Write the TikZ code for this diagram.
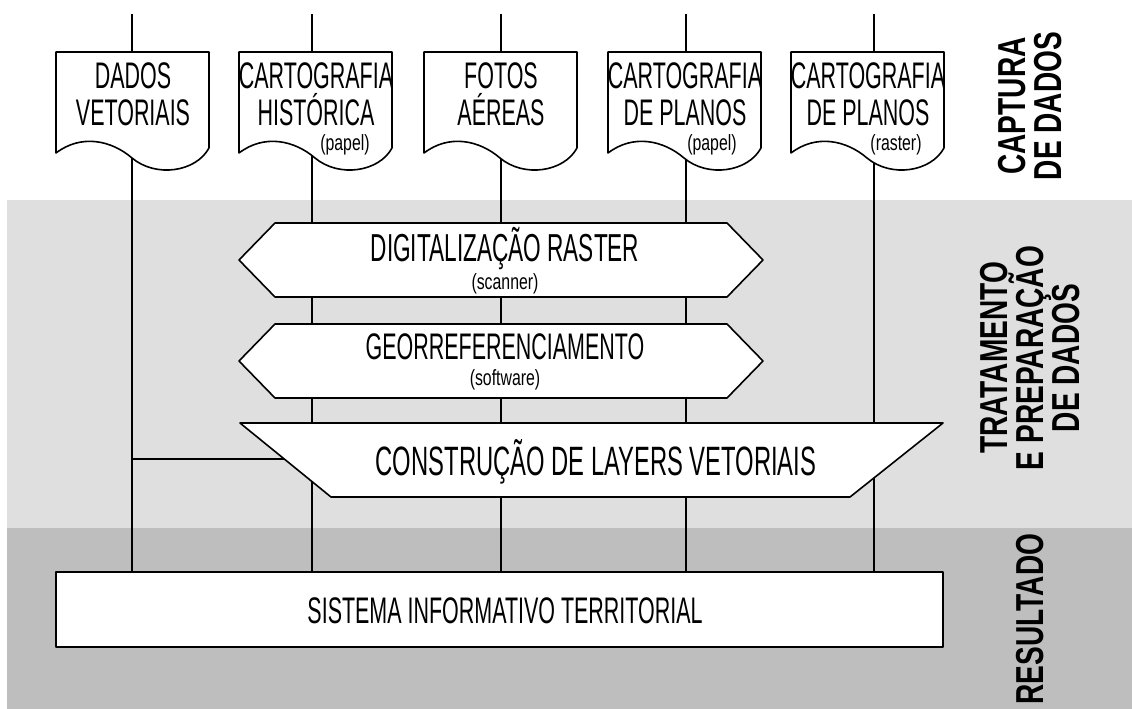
\documentclass[tikz,border=0pt]{standalone}
\usepackage{fontspec}
\setmainfont{Liberation Sans}
\newfontfamily\mainf[FakeStretch=0.58]{Liberation Sans}
\newfontfamily\subf[FakeStretch=0.72]{Liberation Sans}
\newfontfamily\boldf[FakeStretch=0.72]{Liberation Sans}
\definecolor{bandA}{HTML}{DFDFDF}
\definecolor{bandB}{HTML}{BEBEBE}
\begin{document}
\begin{tikzpicture}[x=1pt,y=-1pt,line width=1.6pt,
  shapebox/.style={draw=black,fill=white,line join=round},
  maintext/.style={font=\mainf\fontsize{37}{37}\selectfont,inner sep=0pt,align=center,anchor=base},
  subtext/.style={font=\subf\fontsize{22}{22}\selectfont,inner sep=0pt,anchor=base},
  sidetext/.style={font=\boldf\bfseries\fontsize{39}{36}\selectfont,inner sep=0pt,align=center,rotate=90},
  flow/.style={draw=black,line width=1.6pt},
  docshape/.pic={
    \draw[shapebox] (0,0) -- (153,0) -- (153,96)
      .. controls (140,120) and (100,126) .. (76,106)
      .. controls (55,88) and (25,82) .. (0,101) -- cycle;
  }]
\useasboundingbox (0,0) rectangle (1132,709);
% bands
\fill[bandA] (7,200) rectangle (1132,528);
\fill[bandB] (7,528) rectangle (1132,709);

% result box
\node[shapebox,minimum width=887pt,minimum height=75pt,inner sep=0pt] (sit) at (499.5,609.5) {};
\node[maintext] (sitt) at (505,623) {SISTEMA INFORMATIVO TERRITORIAL};

% vertical connectors
\coordinate (t1) at (132,14);
\coordinate (t2) at (312,14);
\coordinate (t3) at (501,14);
\coordinate (t4) at (686,14);
\coordinate (t5) at (874,14);
\foreach \t in {t1,t2,t3,t4,t5}{
  \draw[flow] (\t) -- (\t |- sit.north);
}

% documents
\pic at (56,52) {docshape};
\pic at (239,52) {docshape};
\pic at (424,52) {docshape};
\pic at (608,52) {docshape};
\pic at (791,52) {docshape};
\node[maintext] (d1) at (133,125) {DADOS\\VETORIAIS};
\node[maintext] (d2) at (316,125) {CARTOGRAFIA\\HISTÓRICA};
\node[subtext] (d2s) at (345,150) {(papel)};
\node[maintext] (d3) at (501,125) {FOTOS\\AÉREAS};
\node[maintext] (d4) at (685,125) {CARTOGRAFIA\\DE PLANOS};
\node[subtext] (d4s) at (712,150) {(papel)};
\node[maintext] (d5) at (868,125) {CARTOGRAFIA\\DE PLANOS};
\node[subtext] (d5s) at (896,150) {(raster)};

% hexagons
\draw[shapebox] (239,260) -- (275,223) -- (727,223) -- (763,260) -- (727,297) -- (275,297) -- cycle;
\node[maintext,font=\mainf\fontsize{39}{39}\selectfont] (dig) at (505,261) {DIGITALIZAÇÃO RASTER};
\node[subtext] (digs) at (505,289) {(scanner)};
\draw[shapebox] (239,361) -- (275,324) -- (727,324) -- (763,361) -- (727,398) -- (275,398) -- cycle;
\node[maintext] (geo) at (505,359) {GEORREFERENCIAMENTO};
\node[subtext] (geos) at (505,385) {(software)};

% trapezoid
\coordinate (trl) at (284,459);
\coordinate (dv) at (132,459);
\draw[flow] (dv) -- (trl);
\draw[shapebox] (240,423) -- (943,423) -- (850,497) -- (331,497) -- cycle;
\node[maintext,font=\mainf\fontsize{41}{41}\selectfont] (con) at (596,475) {CONSTRUÇÃO DE LAYERS VETORIAIS};

% side labels
\node[sidetext] (lab1) at (1030,106) {CAPTURA\\DE DADOS};
\node[sidetext] (lab2) at (1030,358) {TRATAMENTO\\E PREPARAÇÃO\\DE DADOS};
\node[sidetext] (lab3) at (1030,619) {RESULTADO};
\end{tikzpicture}
\end{document}
